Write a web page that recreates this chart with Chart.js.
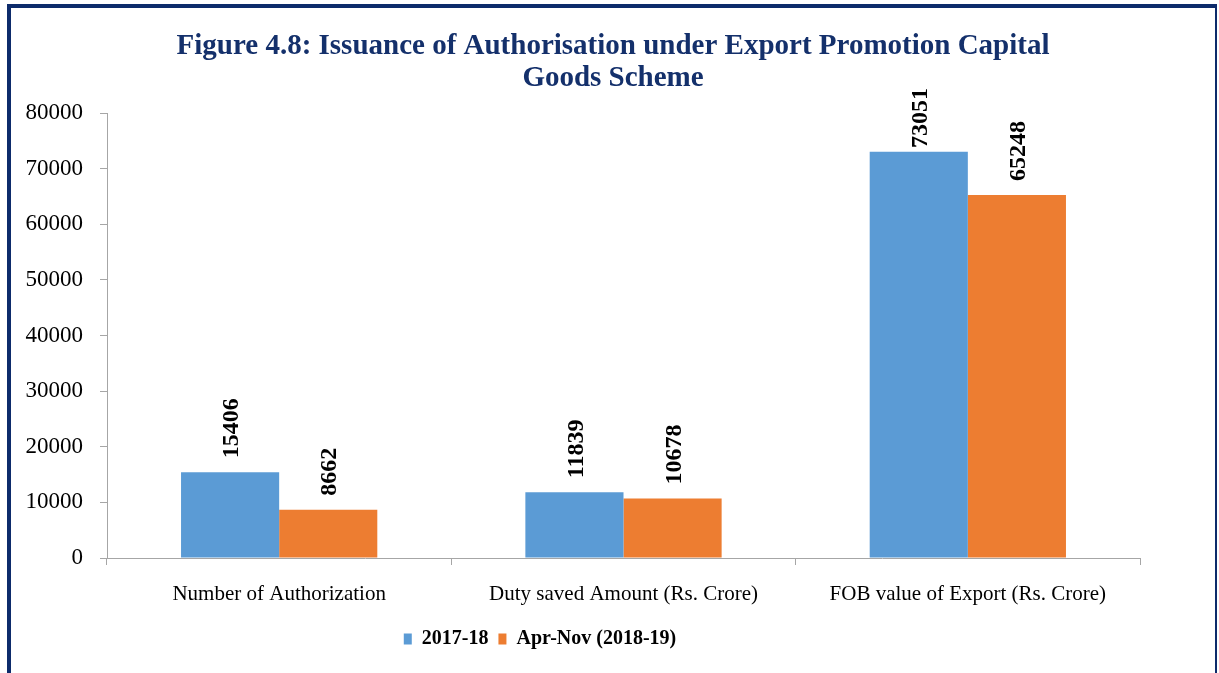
<!DOCTYPE html>
<html>
<head>
<meta charset="utf-8">
<script src="https://cdn.jsdelivr.net/npm/chart.js@4.4.1/dist/chart.umd.min.js"></script>
<style>
  html, body { margin: 0; padding: 0; background: #ffffff; }
  #wrap { position: relative; width: 1219px; height: 673px; }
  #frame {
    position: absolute; left: 7px; top: 4px; width: 1204px; height: 680px;
    border-left: 4px solid #0d2b6b; border-top: 4px solid #0d2b6b; border-right: 2px solid #0d2b6b;
    pointer-events: none;
  }
</style>
</head>
<body>
<div id="wrap">
  <canvas id="chart" width="1219" height="673"></canvas>
  <div id="frame"></div>
</div>
<script>
// data
const categories = ['Number of Authorization', 'Duty saved Amount (Rs. Crore)', 'FOB value of Export (Rs. Crore)'];
const seriesNames = ['2017-18', 'Apr-Nov (2018-19)'];
const values2017 = [15406, 11839, 73051];
const valuesAprNov = [8662, 10678, 65248];
const yMin = 0;
const yMax = 80000;
const yStep = 10000;

const serif = "'Liberation Serif', 'Times New Roman', serif";

// value labels written vertically above each bar
const barLabels = {
  id: 'barLabels',
  afterDatasetsDraw(chart) {
    const ctx = chart.ctx;
    ctx.save();
    ctx.font = 'bold 24px ' + serif;
    ctx.fillStyle = '#000000';
    ctx.textAlign = 'left';
    ctx.textBaseline = 'middle';
    const minTop = chart.chartArea.top - 25;
    chart.data.datasets.forEach((ds, i) => {
      chart.getDatasetMeta(i).data.forEach((bar, j) => {
        const text = String(ds.data[j]);
        const w = ctx.measureText(text).width;
        let bottom = bar.y - 14;
        if (bottom - w < minTop) bottom = minTop + w;
        ctx.save();
        ctx.translate(bar.x + 2, bottom);
        ctx.rotate(-Math.PI / 2);
        ctx.fillText(text, 0, 0);
        ctx.restore();
      });
    });
    ctx.restore();
  }
};

// title and legend are not centred on the canvas in the original
const shiftBlocks = {
  id: 'shiftBlocks',
  afterLayout(chart) {
    if (chart.titleBlock) { chart.titleBlock.left += 43; chart.titleBlock.right += 43; }
    if (chart.legend) { chart.legend.left -= 30; chart.legend.right -= 30; }
  }
};

new Chart(document.getElementById('chart'), {
  type: 'bar',
  data: {
    labels: categories,
    datasets: [
      { label: seriesNames[0], data: values2017, backgroundColor: '#5b9bd5', borderWidth: 0,
        categoryPercentage: 0.57, barPercentage: 1.0 },
      { label: seriesNames[1], data: valuesAprNov, backgroundColor: '#ed7d31', borderWidth: 0,
        categoryPercentage: 0.57, barPercentage: 1.0 }
    ]
  },
  options: {
    responsive: false,
    animation: false,
    layout: { padding: { left: 0, right: 79, top: 0, bottom: 14 } },
    plugins: {
      title: {
        display: true,
        text: ['Figure 4.8: Issuance of Authorisation under Export Promotion Capital', 'Goods Scheme'],
        color: '#14306b',
        font: { family: serif, size: 29, weight: 'bold', lineHeight: 32 / 29 },
        padding: { top: 31, bottom: 18 }
      },
      legend: {
        position: 'bottom',
        labels: {
          color: '#000000',
          font: { family: serif, size: 20, weight: 'bold' },
          boxWidth: 8,
          boxHeight: 11,
          padding: 10
        }
      },
      tooltip: { enabled: false }
    },
    scales: {
      x: {
        afterFit(scale) { scale.height = 61; },
        grid: { offset: true, drawOnChartArea: false, tickLength: 7, color: '#a6a6a6' },
        border: { color: '#a6a6a6', width: 1 },
        ticks: { color: '#000000', font: { family: serif, size: 21 }, padding: 17, maxRotation: 0 }
      },
      y: {
        min: yMin,
        max: yMax,
        afterFit(scale) { scale.width = 107; },
        grid: { drawOnChartArea: false, tickLength: 7, color: '#a6a6a6' },
        border: { color: '#a6a6a6', width: 1 },
        ticks: {
          stepSize: yStep, color: '#000000', font: { family: serif, size: 23 }, padding: 17,
          callback: (v) => String(v)
        }
      }
    }
  },
  plugins: [barLabels, shiftBlocks]
});
</script>
</body>
</html>
